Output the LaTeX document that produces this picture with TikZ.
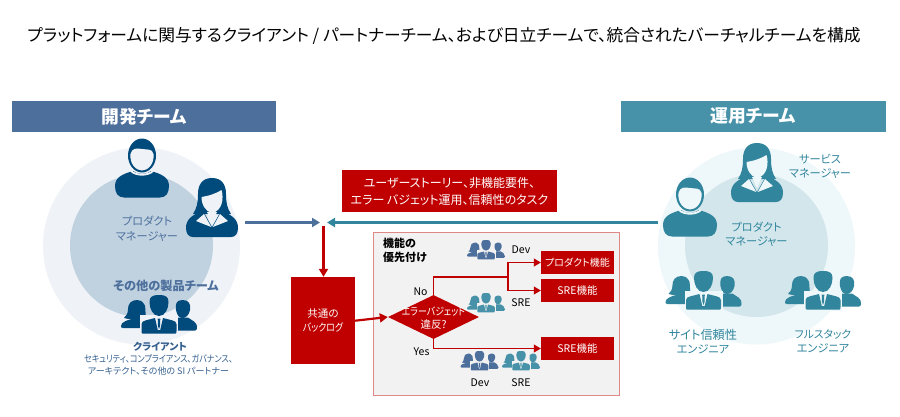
\documentclass[tikz,border=0pt]{standalone}
\usepackage{fontspec}
\setmainfont{Noto Sans CJK JP}[RawFeature=+palt]
\newfontfamily\narrowjp{Noto Sans CJK JP}[RawFeature=+palt,FakeStretch=0.85]
\usetikzlibrary{arrows.meta,shapes.geometric,positioning}
\definecolor{devblue}{HTML}{4D6F9C}
\definecolor{opsteal}{HTML}{4792A8}
\definecolor{iconblue}{HTML}{004A7C}
\definecolor{iconteal}{HTML}{31859C}
\definecolor{smallblue}{HTML}{35608F}
\definecolor{devouter}{HTML}{EFF3F8}
\definecolor{devinner}{HTML}{C0D2E0}
\definecolor{opsouter}{HTML}{EEF7FA}
\definecolor{opsinner}{HTML}{D2E6EB}
\definecolor{brick}{HTML}{C00000}
\definecolor{panelline}{HTML}{E08888}
\definecolor{panelfill}{HTML}{F2F2F2}
\tikzset{
  x=1pt,y=-1pt,
  header/.style={fill=#1,text=white,font=\fontsize{17.8}{20}\selectfont\bfseries,minimum width=264,minimum height=31,inner sep=0},
  redbox/.style={fill=brick,text=white,inner sep=0,align=center},
  flow/.style={brick,line width=1.1,-{Triangle[length=7,width=8]}},
  lbl/.style={font=\fontsize{11.2}{14.5}\selectfont,align=center,inner sep=0,text=#1},
  tiny/.style={font=\fontsize{10.5}{13}\selectfont,align=center,inner sep=0},
  pics/manicon/.style 2 args={code={
    \fill[#1] (-27,47) .. controls (-27,38) and (-19,35) .. (-9,32)
      .. controls (-5,36) and (5,36) .. (9,32)
      .. controls (19,35) and (27,38) .. (27,47)
      .. controls (27,54) and (24,58.5) .. (18,58.5) -- (-18,58.5)
      .. controls (-24,58.5) and (-27,54) .. (-27,47) -- cycle;
    \draw[#2,line width=1.8] (-11,32) .. controls (-6,37) and (6,37) .. (11,32);
    \fill[#1] (0,16.5) ellipse [x radius=14,y radius=17];
    \fill[#2] (-11.5,15) .. controls (-10,9) and (-6,9) .. (0,10)
      .. controls (5,11) and (10,9) .. (11.5,15)
      .. controls (12.5,25) and (6,31.5) .. (0,31.5)
      .. controls (-6,31.5) and (-12.5,25) .. (-11.5,15) -- cycle;
  }},
  pics/womanicon/.style 2 args={code={
    \fill[#1] (0,0) .. controls (-10,0) and (-14,7) .. (-14,16)
      .. controls (-14,24) and (-15,30) .. (-19,36) -- (19,36)
      .. controls (15,30) and (14,24) .. (14,16)
      .. controls (14,7) and (10,0) .. (0,0) -- cycle;
    \fill[#2] (-10.5,19) .. controls (-3,18) and (5,15) .. (9.5,12)
      .. controls (12,20) and (10.5,33) .. (0,35)
      .. controls (-6,34) and (-10.5,27) .. (-10.5,19) -- cycle;
    \fill[#1] (-26,50) .. controls (-26,42) and (-21,37) .. (-9,33)
      -- (0,49) -- (9,33)
      .. controls (21,37) and (26,42) .. (26,50)
      .. controls (26,56) and (23,59) .. (19,59) -- (-19,59)
      .. controls (-23,59) and (-26,56) .. (-26,50) -- cycle;
    \fill[#2] (-16,43) -- (-8,36) -- (-.8,49) -- cycle;
    \fill[#2] (16,43) -- (8,36) -- (.8,49) -- cycle;
    \fill[#2] (-5,34) -- (5,34) -- (0,45) -- cycle;
  }},
  pics/teamicon/.style 2 args={code={
    % woman at the back on the left
    \fill[#1] (-22,5) .. controls (-28,5) and (-31,9) .. (-31,14)
      .. controls (-31,19) and (-33,21) .. (-35,23)
      .. controls (-28,25) and (-16,25) .. (-13,22)
      .. controls (-14,17) and (-13,10) .. (-15,9)
      .. controls (-17,6) and (-19,5) .. (-22,5) -- cycle;
    \fill[#1] (-38,31) .. controls (-38,27) and (-32,25) .. (-23,23) -- (-12,23) -- (-12,33) -- (-36,33)
      .. controls (-38,33) and (-38,32) .. (-38,31) -- cycle;
    % man at the back on the right
    \fill[#1] (23.5,5) .. controls (17.5,5) and (16,9) .. (17,15)
      .. controls (18,20) and (20,23) .. (23.5,23)
      .. controls (27,23) and (30,20) .. (31,15)
      .. controls (32,9) and (30,5) .. (23.5,5) -- cycle;
    \fill[#1] (12,25) -- (18,22.5) -- (29,22.5) .. controls (33,26) and (38,26) .. (38,33)
      .. controls (38,35) and (37,35.5) .. (36,35.5) -- (12,35.5) -- cycle;
    % front figure in a suit
    \fill[#2] (-19,20) -- (19,20) -- (19,39.5) -- (-19,39.5) -- cycle;
    \fill[#1] (0,0) .. controls (-7,0) and (-9.5,2) .. (-9.5,7)
      .. controls (-9.5,14) and (-6,21) .. (0,21)
      .. controls (6,21) and (9.5,14) .. (9.5,7)
      .. controls (9.5,2) and (7,0) .. (0,0) -- cycle;
    \fill[#1] (-16.5,38.5) .. controls (-17.5,38.5) and (-17.5,37) .. (-17.5,36) -- (-17.5,29)
      .. controls (-17.5,25) and (-10,25) .. (-4,23) -- (-1.2,35) -- (1.2,35) -- (4,23)
      .. controls (10,25) and (17.5,25) .. (17.5,29) -- (17.5,36)
      .. controls (17.5,37) and (17.5,38.5) .. (16.5,38.5) -- cycle;
    \fill[#1] (-1.3,23.5) -- (1.3,23.5) -- (1,31) -- (0,34) -- (-1,31) -- cycle;
  }},
}
\begin{document}
\begin{tikzpicture}
\useasboundingbox (0,0) rectangle (900,416);
\fill[white] (0,0) rectangle (900,416);

\node[font=\fontsize{16.75}{20}\selectfont,inner sep=0] (title) at (444,35.5)
  {プラットフォームに関与するクライアント / パートナーチーム、および日立チームで、統合されたバーチャルチームを構成};

% Development side
\node[header=devblue] (devhead) at (144,116.5) {開発チーム};
\fill[devouter] (141.5,246) circle [radius=98.5];
\fill[devinner] (141.5,245.5) circle [radius=71.5];
\pic at (142,139) {manicon={iconblue}{devouter}};
\pic at (212,178) {womanicon={iconblue}{devouter}};
\node[lbl=devblue] (devpm) at (147,229) {プロダクト\\マネージャー};
\node[font=\fontsize{12.2}{15}\selectfont\bfseries,text=devblue,inner sep=0] (devother) at (166,285.5) {その他の製品チーム};
\pic at (159,295) {teamicon={iconblue}{devouter}};
\node[font=\fontsize{10}{13}\selectfont\bfseries,text=smallblue,inner sep=0] (devclient) at (160,347) {クライアント};
\node[align=center,inner sep=0,text=smallblue,font=\fontsize{9}{12.5}\selectfont] (devroles) at (158.5,365)
  {{\narrowjp\fontsize{9.5}{12.5}\selectfont セキュリティ、コンプライアンス、ガバナンス、}\\アーキテクト、その他の SI パートナー};

% Operations side
\node[header=opsteal,minimum width=265] (opshead) at (753.5,116.5) {運用チーム};
\fill[opsouter] (756.5,246) circle [radius=98.5];
\fill[opsinner] (756.5,245.5) circle [radius=71.5];
\pic at (757,143) {womanicon={iconteal}{opsouter}};
\pic at (690,178) {manicon={iconteal}{opsouter}};
\node[lbl=iconteal] (opssm) at (820,166.5) {サービス\\マネージャー};
\node[lbl=iconteal] (opspm) at (756.5,234.5) {プロダクト\\マネージャー};
\pic at (703.5,271) {teamicon={iconteal}{opsouter}};
\pic at (823,271) {teamicon={iconteal}{opsouter}};
\node[lbl=iconteal] (opssre) at (703,341.5) {{\fontsize{12.2}{14.5}\selectfont サイト信頼性}\\エンジニア};
\node[lbl=iconteal] (opsfs) at (823,341.5) {{\fontsize{10.8}{14.5}\selectfont フルスタック}\\エンジニア};

% Hand-over into the shared backlog
\coordinate (devend) at (245,222.5);
\coordinate (devtip) at (320,222.5);
\coordinate (opsend) at (658,222.5);
\coordinate (opstip) at (327,222.5);
\coordinate (droptop) at (323.5,226);
\draw[devblue,line width=2.4,-{Triangle[length=8,width=9]}] (devend) -- (devtip);
\draw[iconteal,line width=2.4,-{Triangle[length=8,width=9]}] (opsend) -- (opstip);
\node[redbox,minimum width=215,minimum height=42,font=\fontsize{12}{17}\selectfont] (stories) at (449.5,191)
  {ユーザーストーリー、非機能要件、\\エラー バジェット運用、信頼性のタスク};
\node[redbox,minimum width=64,minimum height=87,font=\fontsize{10.5}{14.5}\selectfont] (backlog) at (323,320.5) {共通の\\{\narrowjp バックログ}};
\draw[brick,line width=2.2,-{Triangle[length=8,width=9]}] (droptop) -- (backlog.north -| droptop);

% Prioritisation panel
\node[draw=panelline,fill=panelfill,line width=.9,minimum width=246,minimum height=163,inner sep=0] (panel) at (496,313.5) {};
\node[font=\fontsize{11}{13.5}\selectfont\bfseries,align=left,inner sep=0,anchor=north west] (prio) at (383,238) {機能の\\優先付け};
\node[diamond,fill=brick,minimum width=91,minimum height=44,inner sep=0,aspect=2] (gate) at (433.5,317) {};
\node[text=white,font=\fontsize{10.5}{13.5}\selectfont,align=center,inner sep=0] (gatetext) at (433.5,318) {{\narrowjp エラーバジェット}\\違反?};
\draw[brick,line width=2.2,-{Triangle[length=8,width=9]}] (backlog.east |- 0,320.7) coordinate (bout) -- (gate.west);
\node[redbox,minimum width=73,minimum height=23,font=\fontsize{10}{13}\selectfont] (pfeat) at (577.5,262.5) {プロダクト機能};
\node[redbox,minimum width=73,minimum height=23,font=\fontsize{10.5}{13}\selectfont] (sfeat) at (577.5,290.5) {SRE機能};
\node[redbox,minimum width=73,minimum height=23,font=\fontsize{10.5}{13}\selectfont] (yfeat) at (577.5,348.5) {SRE機能};
\coordinate (fork) at (508,277);
\draw[brick,line width=1.1] (gate.north) |- (fork);
\draw[flow] (fork) |- (pfeat.west);
\draw[flow] (fork) |- (sfeat.west);
\draw[flow] (gate.south) |- (yfeat.west);
\node[tiny] (no) at (420.5,292) {No};
\node[tiny] (yes) at (421.5,352) {Yes};
\node[tiny] (devA) at (521,250) {Dev};
\node[tiny] (sreA) at (521,303) {SRE};
\node[tiny] (devB) at (480,383) {Dev};
\node[tiny] (sreB) at (521,383) {SRE};
\pic[scale=.5] at (486,240) {teamicon={devblue}{panelfill}};
\pic[scale=.5] at (486,293) {teamicon={opsteal}{panelfill}};
\pic[scale=.5] at (479.5,351) {teamicon={devblue}{panelfill}};
\pic[scale=.5] at (521,351) {teamicon={opsteal}{panelfill}};
\end{tikzpicture}
\end{document}
